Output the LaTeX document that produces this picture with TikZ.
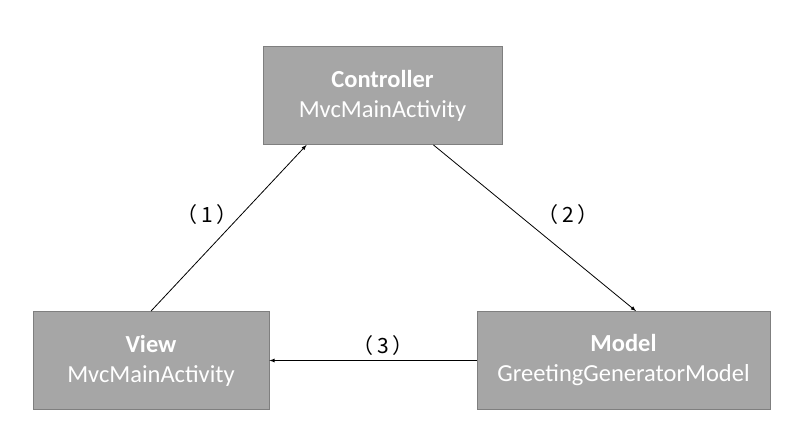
\documentclass[tikz,border=0pt]{standalone}
\usepackage{fontspec}
\setmainfont{Carlito}
\newfontfamily\cjkfont{Noto Sans CJK SC}
\usetikzlibrary{calc}
\usetikzlibrary{arrows}
\usepackage{xcolor}
\definecolor{boxgray}{HTML}{A6A6A6}
\definecolor{edgegray}{HTML}{7F7F7F}

\begin{document}
\begin{tikzpicture}[x=1pt,y=-1pt,
  mvcbox/.style={draw=edgegray, line width=0.8pt, fill=boxgray, text=white, align=center,
    minimum height=98pt, inner sep=0pt, font=\fontsize{24.5}{30}\selectfont},
  link/.style={-latex, line width=0.8pt, black},
  steplabel/.style={font=\cjkfont\fontsize{21}{24}\selectfont}]
\useasboundingbox (0,0) rectangle (796,431);
\node[mvcbox, minimum width=239pt] (ctrl) at (382.5,95.5) {\textbf{Controller}\\MvcMainActivity};
\node[mvcbox, minimum width=236pt] (view) at (151,360.5) {\textbf{View}\\MvcMainActivity};
\node[mvcbox, minimum width=293pt] (model) at (623.5,360.5) {\textbf{Model}\\GreetingGeneratorModel};
% (1) view -> controller
\draw[link] (view.north) -- ($(ctrl.south west)+(44,0)$);
% (2) controller -> model
\draw[link] ($(ctrl.south east)+(-69,0)$) -- ($(model.north)+(12.5,0)$);
% (3) model -> view
\draw[link] (model.west) -- (view.east);
\node[steplabel] (s1) at (207,215) {（\,1\,）};
\node[steplabel] (s2) at (568,215) {（\,2\,）};
\node[steplabel] (s3) at (383,346) {（\,3\,）};
\end{tikzpicture}
\end{document}
